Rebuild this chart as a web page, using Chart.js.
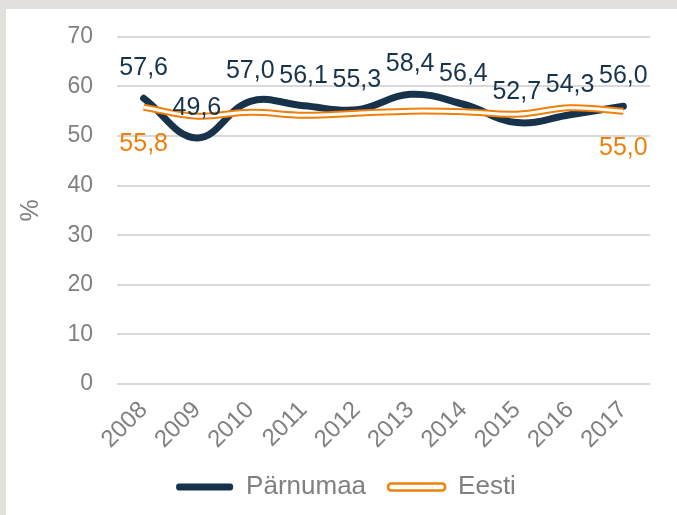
<!DOCTYPE html>
<html>
<head>
<meta charset="utf-8">
<script src="https://cdn.jsdelivr.net/npm/chart.js@4.4.1/dist/chart.umd.min.js"></script>
<style>
  html, body { margin: 0; padding: 0; background: #e2e1dd; overflow: hidden; }
  #kast { position: absolute; left: 6px; top: 9px; width: 671px; height: 540px; background: #ffffff; }
  canvas { display: block; position: absolute; left: 0; top: -10px; }
</style>
</head>
<body>
<div id="kast"><canvas id="graafik" width="671" height="540"></canvas></div>
<script>
// andmed
var aastad = ['2008', '2009', '2010', '2011', '2012', '2013', '2014', '2015', '2016', '2017'];
var parnumaa = [57.6, 49.6, 57.0, 56.1, 55.3, 58.4, 56.4, 52.7, 54.3, 56.0];
var eesti = [55.8, 54.0, 54.8, 54.2, 54.6, 55.0, 54.9, 54.4, 55.7, 55.0];
var yTikid = [0, 10, 20, 30, 40, 50, 60, 70];

var tume = '#17334b';
var oranz = '#f07f09';
var hall = '#808080';
var font = '"Liberation Sans", Arial, sans-serif';

// andmesildid (Pärnumaa kõik, Eesti ainult otsad)
var sildid = {
    id: 'sildid',
    afterLayout: function(chart) {
        // legend veidi paremale, nagu originaalis
        chart.legend.left += 18;
        chart.legend.right += 18;
    },
    afterDatasetsDraw: function(chart) {
        var ctx = chart.ctx;
        ctx.save();
        ctx.textAlign = 'center';
        ctx.textBaseline = 'middle';
        ctx.font = '25px ' + font;

        ctx.fillStyle = tume;
        chart.getDatasetMeta(0).data.forEach(function(p, i) {
            ctx.fillText(parnumaa[i].toFixed(1).replace('.', ','), p.x, p.y - 30);
        });

        ctx.fillStyle = oranz;
        var m = chart.getDatasetMeta(1).data;
        [0, eesti.length - 1].forEach(function(i) {
            ctx.fillText(eesti[i].toFixed(1).replace('.', ','), m[i].x, m[i].y + 37);
        });
        ctx.restore();
    }
};

new Chart(document.getElementById('graafik'), {
    type: 'line',
    data: {
        labels: aastad,
        datasets: [
            { label: 'Pärnumaa', data: parnumaa, borderColor: tume, backgroundColor: tume,
              borderWidth: 7, tension: 0.4, pointRadius: 0, borderCapStyle: 'round', order: 3 },
            { label: 'Eesti', data: eesti, borderColor: oranz, backgroundColor: '#ffffff',
              borderWidth: 7, tension: 0.4, pointRadius: 0, order: 2 },
            { label: 'Eesti-sisu', data: eesti, borderColor: '#ffffff',
              borderWidth: 3, tension: 0.4, pointRadius: 0, order: 1 }
        ]
    },
    options: {
        responsive: false,
        animation: false,
        layout: { padding: { top: 0, right: 27, bottom: 29, left: 0 } },
        plugins: {
            tooltip: { enabled: false },
            legend: {
                position: 'bottom',
                labels: {
                    color: hall,
                    font: { family: font, size: 26 },
                    boxWidth: 57,
                    boxHeight: 7,
                    padding: 22,
                    useBorderRadius: true,
                    borderRadius: 3,
                    filter: function(item) { return item.datasetIndex !== 2; },
                    sort: function(a, b) { return a.datasetIndex - b.datasetIndex; },
                    generateLabels: function(chart) {
                        var list = Chart.defaults.plugins.legend.labels.generateLabels(chart);
                        list.forEach(function(it) {
                            if (it.datasetIndex === 0) { it.fillStyle = tume; it.lineWidth = 0; it.strokeStyle = tume; }
                            if (it.datasetIndex === 1) { it.fillStyle = '#ffffff'; it.lineWidth = 2.5; it.strokeStyle = oranz; }
                        });
                        return list;
                    }
                }
            }
        },
        scales: {
            x: {
                offset: true,
                grid: { display: false },
                border: { display: false },
                ticks: { color: hall, font: { family: font, size: 24 }, maxRotation: 45, minRotation: 45, padding: 4 },
                afterFit: function(s) { s.height = 68; }
            },
            y: {
                min: 0, max: 70,
                afterBuildTicks: function(s) { s.ticks = yTikid.map(function(v) { return { value: v }; }); },
                grid: { color: '#d9d9d9', lineWidth: 2, drawTicks: false },
                border: { display: false },
                ticks: { color: hall, font: { family: font, size: 23 }, padding: 24 },
                title: { display: true, text: '%', color: hall, font: { family: font, size: 25 }, padding: { top: 10, bottom: 0 } },
                afterFit: function(s) { s.width = 111; }
            }
        }
    },
    plugins: [sildid]
});
</script>
</body>
</html>
